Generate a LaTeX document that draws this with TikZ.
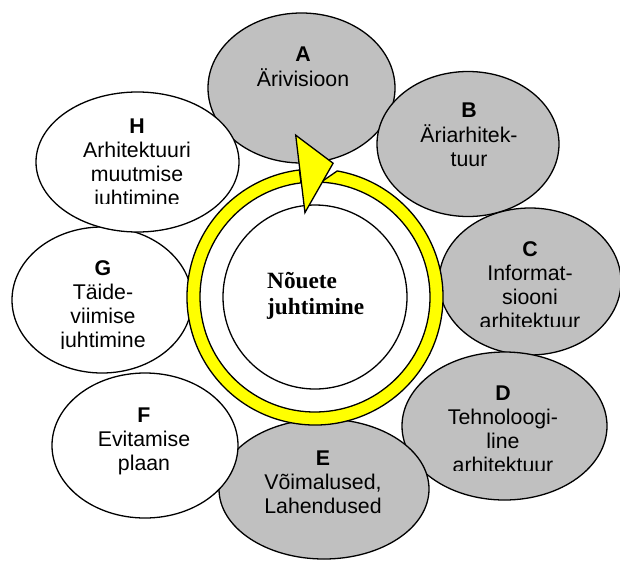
\documentclass[tikz,border=0pt]{standalone}
\usepackage{fontspec}
\setmainfont{Liberation Serif}
\newfontfamily\sansf{Liberation Sans}
\usetikzlibrary{shapes.geometric}

\definecolor{phasegray}{RGB}{192,192,192}
\definecolor{ringyellow}{RGB}{255,255,0}

% centred stack of lines whose baseline is the first line's baseline
\newcommand{\stk}[1]{\begin{tabular}[t]{@{}c@{}}#1\end{tabular}}
\newcommand{\stkl}[1]{\begin{tabular}[t]{@{}l@{}}#1\end{tabular}}

\tikzset{
  phase/.style={ellipse, draw=black, line width=1.3pt, inner sep=0pt,
                fill=phasegray},
  phasew/.style={phase, fill=white},
  lbl/.style={font=\sansf\fontsize{21.3}{24}\selectfont, inner sep=0pt,
              anchor=base},
  ringpart/.style={draw=black, line width=1.3pt, fill=ringyellow,
                   line join=miter},
}

\begin{document}
\begin{tikzpicture}[x=1pt, y=1pt]
  \useasboundingbox (0,0) rectangle (620,-560);
  \fill[white] (0,0) rectangle (620,-560);

  % phase ellipses, later ones lie on top of earlier ones
  \node[phase,  minimum width=187, minimum height=150] (A) at (301.5,-88) {};
  \node[phase,  minimum width=182, minimum height=145] (B) at (468,-144) {};
  \node[phase,  minimum width=182, minimum height=147] (C) at (530,-281.5) {};
  \node[phase,  minimum width=205, minimum height=148] (D) at (504.5,-426) {};
  \node[phase,  minimum width=210, minimum height=140] (E) at (324,-489) {};
  \node[phasew, minimum width=186, minimum height=145] (F) at (145,-445.5) {};
  \node[phasew, minimum width=180, minimum height=146] (G) at (102,-300) {};
  \node[phasew, minimum width=203, minimum height=140] (H) at (137.5,-162) {};

  % centre of the cycle
  \coordinate (c) at (315,-297);
  \node[circle, draw=black, line width=1.3pt, fill=white, inner sep=0pt,
        minimum size=184] (core) at (c) {};

  % yellow cycle band (its tail tucks under the arrowhead) and the arrowhead
  \draw[ringpart] ([shift={(c)}]80:128) arc[start angle=80, end angle=-263, radius=128]
    -- ([shift={(c)}]-263:115) arc[start angle=-263, end angle=87, radius=115] -- cycle;
  \draw[ringpart] ([shift={(c)}]96.8:163) -- ([shift={(c)}]82.3:135)
    -- ([shift={(c)}]96.8:85) -- cycle;

  % labels
  \node[lbl] (tA) at (303,-61) {\stk{\textbf{A}\\Ärivisioon}};
  \node[lbl] (tB) at (469,-117) {\stk{\textbf{B}\\Äriarhitek-\\tuur}};
  \begin{scope}
    \clip (430,-200) rectangle (625,-326.7);
    \node[lbl] (tC) at (530,-256) {\stk{\textbf{C}\\Informat-\\siooni\\arhitektuur}};
  \end{scope}
  \begin{scope}
    \clip (400,-340) rectangle (620,-470);
    \node[lbl] (tD) at (503,-400) {\stk{\textbf{D}\\Tehnoloogi-\\line\\arhitektuur}};
  \end{scope}
  \node[lbl] (tE) at (323,-465) {\stk{\textbf{E}\\Võimalused,\\Lahendused}};
  \node[lbl] (tF) at (144,-422) {\stk{\textbf{F}\\Evitamise\\plaan}};
  \begin{scope}
    \clip (10,-220) rectangle (200,-348);
    \node[lbl] (tG) at (103,-275) {\stk{\textbf{G}\\Täide-\\viimise\\juhtimine}};
  \end{scope}
  \begin{scope}
    \clip (30,-85) rectangle (245,-203.3);
    \node[lbl] (tH) at (137,-133) {\stk{\textbf{H}\\Arhitektuuri\\muutmise\\juhtimine}};
  \end{scope}

  \node[font=\bfseries\fontsize{23.3}{26}\selectfont, inner sep=0pt,
        anchor=base west] (tcore) at (267,-288) {\stkl{Nõuete\\juhtimine}};
\end{tikzpicture}
\end{document}
